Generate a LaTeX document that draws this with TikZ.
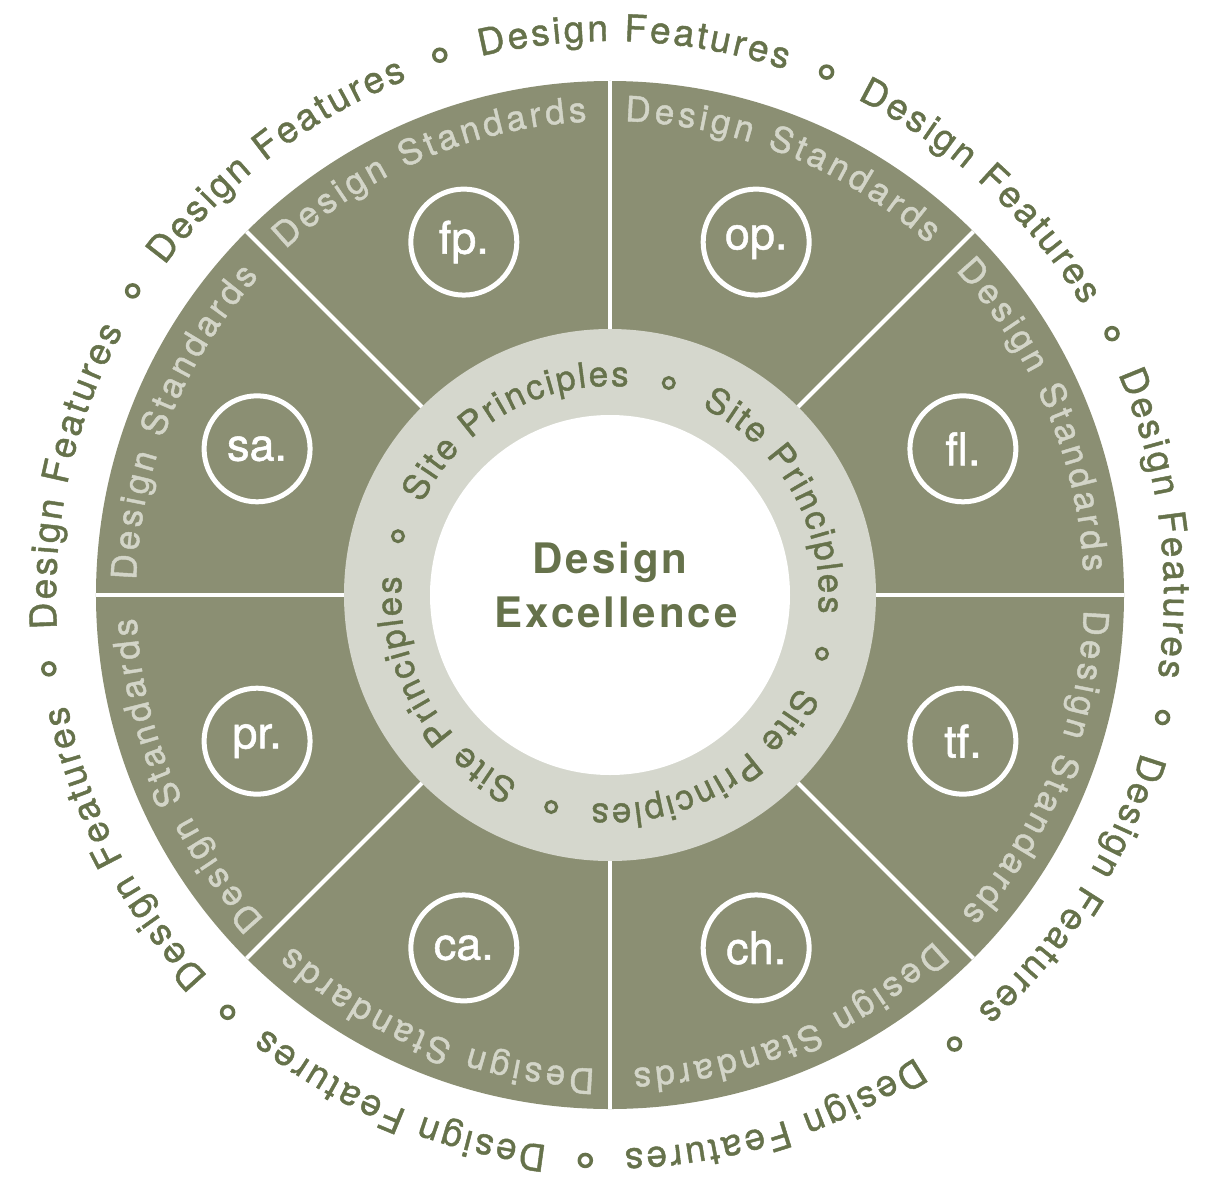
\documentclass[tikz,border=0pt]{standalone}
\usepackage{fontspec}
\setmainfont{TeX Gyre Heros}
\newfontfamily\heros[FakeBold=1.2]{TeX Gyre Heros}
\newfontfamily\herosls[LetterSpace=7]{TeX Gyre Heros}
\usetikzlibrary{decorations.text}
\definecolor{segfill}{HTML}{8B8F73}
\definecolor{ringfill}{HTML}{D5D7CD}
\definecolor{darkol}{HTML}{66724B}
\definecolor{lighttxt}{HTML}{D3D5C8}
\newcommand\featfont{\heros\fontsize{37}{40}\selectfont\color{darkol}}
\newcommand\stdfont{\heros\fontsize{35}{40}\selectfont\color{lighttxt}}
\newcommand\sitefont{\heros\fontsize{35}{40}\selectfont\color{darkol}}
\tikzset{
  divider/.style={draw=white, line width=4pt},
  featpath/.style={decorate, decoration={text along path, text color=darkol,
      text={|\featfont|Design Features}, text align={fit to path=true}}},
  stdpath/.style={decorate, decoration={text along path, text color=lighttxt,
      text={|\stdfont|Design Standards}, text align={fit to path=true}}},
  sitepath/.style={decorate, decoration={text along path, text color=darkol,
      text={|\sitefont|Site Principles}, text align={fit to path=true}}},
  outmark/.style={draw=darkol, line width=3.5pt},
  inmark/.style={draw=darkol, line width=3pt},
  segbadge/.style={circle, draw=white, line width=5pt, minimum size=106pt,
      inner sep=0pt, text=white, font=\heros\fontsize{45}{48}\selectfont},
  titlefont/.style={text=darkol, font=\herosls\bfseries\fontsize{42}{48}\selectfont,
      inner sep=0pt}
}
\begin{document}
\begin{tikzpicture}[x=1pt,y=1pt]
\useasboundingbox (-610,-581) rectangle (604,595);
% main disc
\fill[segfill] (0,0) circle[radius=514];
\fill[ringfill] (0,0) circle[radius=266];
\fill[white] (0,0) circle[radius=180];
% dividers
\foreach \a in {0,45,...,315}{
  \draw[divider] (\a:266) -- (\a:514);
}
% segment texts
\foreach \k in {0,...,7}{
  \pgfmathsetmacro\c{113-45*\k}
  \pgfmathsetmacro\s{\c+20.2}
  \pgfmathsetmacro\e{\c-20.2}
  \path[stdpath] (\s:474) arc[start angle=\s, end angle=\e, radius=474];
}
% outer ring texts and markers
\foreach \k in {0,...,8}{
  \pgfmathsetmacro\c{87.5-40*\k}
  \pgfmathsetmacro\s{\c+16}
  \pgfmathsetmacro\e{\c-16}
  \pgfmathsetmacro\m{\c+20}
  \path[featpath] (\s:554) arc[start angle=\s, end angle=\e, radius=554];
  \draw[outmark] (\m:566) circle[radius=6];
}
% inner ring texts and markers
\foreach \k in {0,...,3}{
  \pgfmathsetmacro\c{119.5-90*\k}
  \pgfmathsetmacro\s{\c+34.5}
  \pgfmathsetmacro\e{\c-34.5}
  \pgfmathsetmacro\m{\c-45}
  \path[sitepath] (\s:209) arc[start angle=\s, end angle=\e, radius=209];
  \draw[inmark] (\m:220) circle[radius=5.5];
}
% badges
\foreach \a/\t/\n in {112.5/fp./fp, 67.5/op./op, 22.5/fl./fl, -22.5/tf./tf,
    -67.5/ch./ch, -112.5/ca./ca, -157.5/pr./pr, 157.5/sa./sa}{
  \node[segbadge] (badge-\n) at (\a:382) {\t};
}
% centre title
\node[titlefont, anchor=base] (title1) at (0,22) {Design};
\node[titlefont, anchor=base] (title2) at (6,-32) {Excellence};
\end{tikzpicture}
\end{document}
